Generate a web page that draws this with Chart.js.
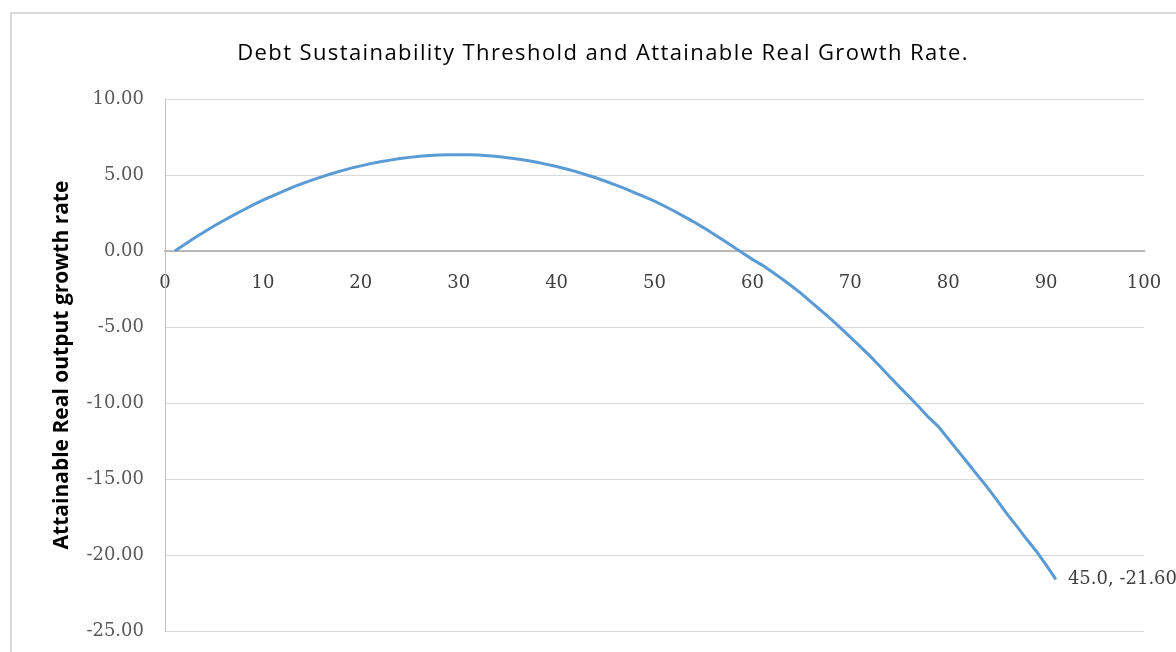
<!DOCTYPE html>
<html>
<head>
<meta charset="utf-8">
<title>Debt Sustainability Threshold and Attainable Real Growth Rate.</title>
<script src="https://cdn.jsdelivr.net/npm/chart.js@4.4.1/dist/chart.umd.min.js"></script>
<style>
  html, body { margin: 0; padding: 0; background: #ffffff; overflow: hidden; }
  #wrap { position: relative; width: 1176px; height: 652px; overflow: hidden; }
  #frame {
    position: absolute; left: 10px; top: 12px; width: 1300px; height: 800px;
    border: 2px solid #d9d9d9; box-sizing: border-box; pointer-events: none;
  }
  canvas { position: absolute; left: 0; top: 0; }
</style>
</head>
<body>
<div id="wrap">
  <div id="frame"></div>
  <canvas id="chart" width="1176" height="652"></canvas>
</div>
<script>
// Attainable real output growth rate, one value per step of the debt threshold (steps 1..91)
const growthRate = [
   0.00,  0.43,  0.85,  1.25,  1.64,  2.01,  2.36,  2.70,  3.03,  3.34,
   3.63,  3.91,  4.18,  4.43,  4.66,  4.88,  5.08,  5.27,  5.45,  5.60,
   5.75,  5.87,  5.98,  6.08,  6.16,  6.23,  6.28,  6.32,  6.34,  6.34,
   6.33,  6.31,  6.27,  6.21,  6.14,  6.05,  5.95,  5.84,  5.70,  5.56,
   5.39,  5.22,  5.02,  4.82,  4.59,  4.35,  4.10,  3.83,  3.56,  3.28,
   2.96,  2.63,  2.28,  1.92,  1.54,  1.14,  0.73,  0.30, -0.13, -0.55,
  -0.93, -1.37, -1.83, -2.30, -2.80, -3.36, -3.90, -4.47, -5.06, -5.66,
  -6.27, -6.90, -7.57, -8.26, -8.92, -9.58,-10.25,-10.95,-11.55,-12.35,
 -13.15,-13.95,-14.76,-15.55,-16.40,-17.30,-18.10,-18.95,-19.75,-20.65,
 -21.60
];
// Step number of each value on the horizontal axis
const steps = growthRate.map((v, i) => i + 1);

// Threshold value attached to the last point's label
const endThreshold = 45.0;

// Axis ticks
const xTicks = [0, 10, 20, 30, 40, 50, 60, 70, 80, 90, 100];
const yTicks = [10, 5, 0, -5, -10, -15, -20, -25];

const chartTitle = 'Debt Sustainability Threshold and Attainable Real Growth Rate.';
const yTitle = 'Attainable Real output growth rate';

const points = steps.map((s, i) => ({ x: s, y: growthRate[i] }));

// Chart title drawn centred over the frame
const titlePlugin = {
  id: 'frameTitle',
  afterDraw(chart) {
    const ctx = chart.ctx;
    ctx.save();
    ctx.font = "22px 'Open Sans'";
    if ('letterSpacing' in ctx) ctx.letterSpacing = '1.4px';
    ctx.fillStyle = '#000000';
    ctx.textAlign = 'center';
    ctx.textBaseline = 'alphabetic';
    ctx.fillText(chartTitle, 603, 60);
    ctx.restore();
  }
};

// Value label next to the last point of the curve
const endLabelPlugin = {
  id: 'endLabel',
  afterDatasetsDraw(chart) {
    const meta = chart.getDatasetMeta(0);
    const last = meta.data[meta.data.length - 1];
    const value = growthRate[growthRate.length - 1];
    const ctx = chart.ctx;
    ctx.save();
    ctx.font = "18px 'DejaVu Serif'";
    ctx.fillStyle = '#404040';
    ctx.textAlign = 'left';
    ctx.textBaseline = 'middle';
    ctx.fillText(endThreshold.toFixed(1) + ', ' + value.toFixed(2), last.x + 12, last.y);
    ctx.restore();
  }
};

new Chart(document.getElementById('chart'), {
  type: 'scatter',
  data: {
    datasets: [{
      data: points,
      showLine: true,
      borderColor: '#5b9bd5',
      backgroundColor: '#5b9bd5',
      borderWidth: 3,
      pointRadius: 0,
      pointHoverRadius: 0,
      tension: 0
    }]
  },
  options: {
    responsive: false,
    animation: false,
    events: [],
    layout: { padding: { left: 0, top: 99, right: 32, bottom: 21 } },
    plugins: {
      legend: { display: false },
      title: { display: false },
      tooltip: { enabled: false }
    },
    scales: {
      x: {
        type: 'linear',
        position: { y: 0 },
        min: 0,
        max: 100,
        afterBuildTicks(scale) { scale.ticks = xTicks.map(v => ({ value: v })); },
        afterFit(scale) {
          scale.height = 0;
          scale.paddingLeft = 0;
          scale.paddingRight = 0;
        },
        grid: { display: true, drawOnChartArea: false, drawTicks: false },
        border: { display: true, color: '#b8b8b8', width: 2 },
        ticks: {
          padding: 22,
          color: '#404040',
          font: { family: 'DejaVu Serif', size: 18 },
          maxRotation: 0,
          autoSkip: false,
          callback: v => String(v)
        }
      },
      y: {
        type: 'linear',
        position: 'left',
        min: -25,
        max: 10,
        afterBuildTicks(scale) { scale.ticks = yTicks.map(v => ({ value: v })); },
        afterFit(scale) {
          scale.width = 165;
          scale.paddingTop = 0;
          scale.paddingBottom = 0;
        },
        grid: { color: '#d9d9d9', lineWidth: 1, drawTicks: false },
        border: { display: true, color: '#bfbfbf', width: 1 },
        ticks: {
          padding: 21,
          color: '#595959',
          font: { family: 'DejaVu Serif', size: 18 },
          autoSkip: false,
          callback: v => Number(v).toFixed(2)
        },
        title: {
          display: true,
          text: yTitle,
          color: '#000000',
          font: { family: 'Open Sans', size: 21, weight: 'bold' },
          padding: { top: 49, bottom: 0 }
        }
      }
    }
  },
  plugins: [titlePlugin, endLabelPlugin]
});
</script>
</body>
</html>
